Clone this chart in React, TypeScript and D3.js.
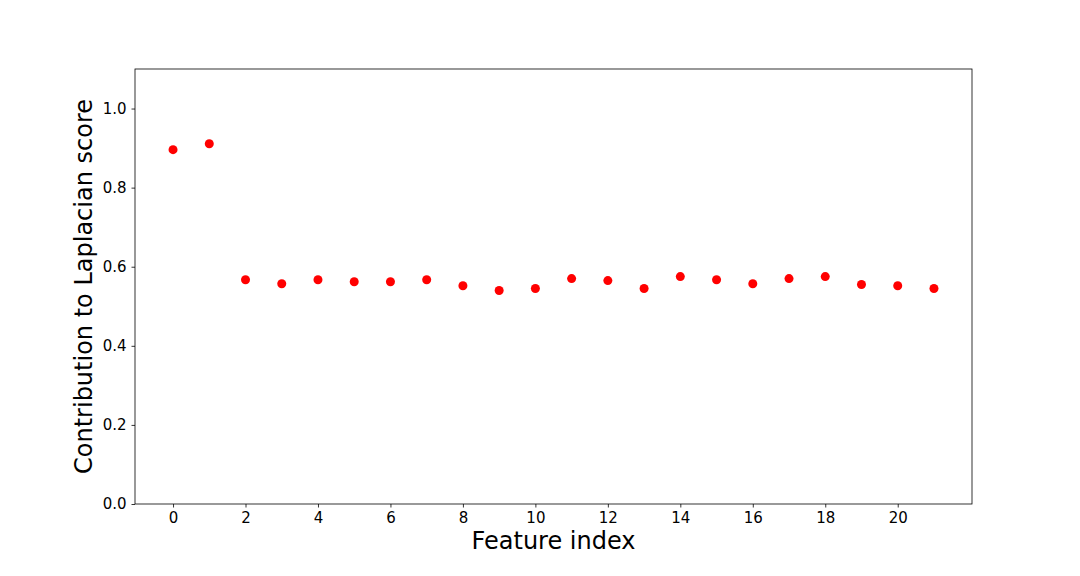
import React, { useEffect, useRef } from 'react';
import * as d3 from 'd3';

const featureIdx = d3.range(0, 22);
const scores = [
  0.896, 0.911, 0.567, 0.557, 0.567, 0.562, 0.562, 0.567, 0.552, 0.540, 0.545,
  0.570, 0.565, 0.545, 0.575, 0.567, 0.557, 0.570, 0.575, 0.555, 0.552, 0.545,
];
const xTicks = [0, 2, 4, 6, 8, 10, 12, 14, 16, 18, 20];
const yTicks = [0, 0.2, 0.4, 0.6, 0.8, 1.0];

const App = () => {
  const svgRef = useRef<SVGSVGElement>(null);

  useEffect(() => {
    const width = 1080;
    const height = 576;
    const left = 135, right = 972, top = 69, bottom = 504;

    const svg = d3.select(svgRef.current);
    svg.selectAll('*').remove();
    svg.attr('width', width).attr('height', height);

    svg.append('rect').attr('width', width).attr('height', height).attr('fill', 'white');

    const x = d3.scaleLinear().domain([-1.05, 22.05]).range([left, right]);
    const y = d3.scaleLinear().domain([0, 1.1]).range([bottom, top]);

    const font = 'DejaVu Sans, sans-serif';

    // x axis
    const xAxis = svg.append('g')
      .attr('transform', `translate(0,${bottom})`)
      .call(d3.axisBottom(x).tickValues(xTicks).tickSize(3.5).tickPadding(5).tickFormat(d3.format('d')));
    xAxis.select('.domain').remove();
    xAxis.selectAll('line').attr('stroke', '#000').attr('stroke-width', 0.8);
    xAxis.selectAll('text').attr('font-family', font).attr('font-size', 15).attr('fill', '#000');

    // y axis
    const yAxis = svg.append('g')
      .attr('transform', `translate(${left},0)`)
      .call(d3.axisLeft(y).tickValues(yTicks).tickSize(3.5).tickPadding(5).tickFormat(d3.format('.1f')));
    yAxis.select('.domain').remove();
    yAxis.selectAll('line').attr('stroke', '#000').attr('stroke-width', 0.8);
    yAxis.selectAll('text').attr('font-family', font).attr('font-size', 15).attr('fill', '#000');

    // frame
    svg.append('rect')
      .attr('x', left).attr('y', top)
      .attr('width', right - left).attr('height', bottom - top)
      .attr('fill', 'none').attr('stroke', '#000').attr('stroke-width', 0.8);

    // points
    svg.append('g')
      .selectAll('circle')
      .data(featureIdx)
      .enter()
      .append('circle')
      .attr('cx', d => x(d))
      .attr('cy', d => y(scores[d]))
      .attr('r', 4.5)
      .attr('fill', '#ff0000');

    // labels
    svg.append('text')
      .attr('x', (left + right) / 2)
      .attr('y', 549)
      .attr('text-anchor', 'middle')
      .attr('font-family', font)
      .attr('font-size', 24)
      .text('Feature index');

    svg.append('text')
      .attr('transform', `translate(92,${(top + bottom) / 2}) rotate(-90)`)
      .attr('text-anchor', 'middle')
      .attr('font-family', font)
      .attr('font-size', 24)
      .text('Contribution to Laplacian score');
  }, []);

  return (
    <div style={{ position: 'absolute', left: 0, top: 0 }}>
      <svg ref={svgRef} style={{ display: 'block' }}></svg>
    </div>
  );
};

export default App;
